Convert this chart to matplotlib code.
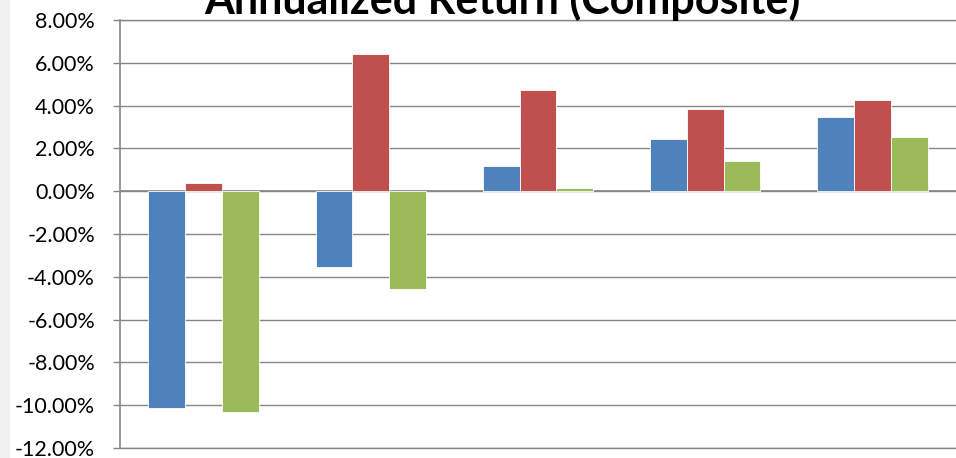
import numpy as np
import matplotlib
matplotlib.use('Agg')
import matplotlib.pyplot as plt
from matplotlib.patches import Rectangle
from matplotlib.ticker import FuncFormatter

# annualized returns (%) per period, three composites
periods = ['1', '2', '3', '4', '5']
blueReturns = [-10.14, -3.55, 1.17, 2.46, 3.49]
redReturns = [0.36, 6.43, 4.72, 3.85, 4.25]
greenReturns = [-10.34, -4.58, 0.17, 1.42, 2.51]
yTicks = [-12, -10, -8, -6, -4, -2, 0, 2, 4, 6, 8]

gridColor = '#868686'
colors = ['#4F81BD', '#C0504D', '#9BBB59']

plt.rcParams['font.family'] = ['Lato', 'DejaVu Sans']

fig = plt.figure(figsize=(9.56, 4.58), dpi=100)
fig.patches.append(Rectangle((0, 0), 10 / 956, 1, transform=fig.transFigure,
                             facecolor='#f0f0f0', edgecolor='none', zorder=0))
ax = fig.add_axes([120 / 956, 10 / 458, 836 / 956, 428 / 458])

x = np.arange(len(periods))
w = 0.22
for i, (vals, c) in enumerate(zip([blueReturns, redReturns, greenReturns], colors)):
    ax.bar(x + (i - 1) * w, vals, width=w, color=c, edgecolor='white',
           linewidth=0.6, zorder=3)

ax.set_xlim(-0.5, len(periods) - 0.5)
ax.set_ylim(-12, 8)
ax.set_yticks(yTicks)
ax.yaxis.set_major_formatter(FuncFormatter(lambda v, p: f'{v:.2f}%'))
ax.set_xticks([])
ax.grid(axis='y', color=gridColor, linewidth=1.0, zorder=1)
# gridlines at the limits get clipped, draw them again
for yv in (yTicks[0], yTicks[-1]):
    ax.axhline(yv, color=gridColor, linewidth=1.0, zorder=1, clip_on=False)
ax.axhline(0, color=gridColor, linewidth=1.2, zorder=2)
for s in ['top', 'right', 'bottom']:
    ax.spines[s].set_visible(False)
ax.spines['left'].set_color(gridColor)
ax.spines['left'].set_linewidth(1.2)
ax.tick_params(axis='y', length=5, width=1.0, color=gridColor, pad=13,
               labelsize=15.5, labelcolor='black')

fig.text(502 / 956, (458 - 14) / 458, 'Annualized Return (Composite)',
         ha='center', va='baseline', fontsize=31, fontweight='bold')

plt.savefig('out.png', dpi=100)
